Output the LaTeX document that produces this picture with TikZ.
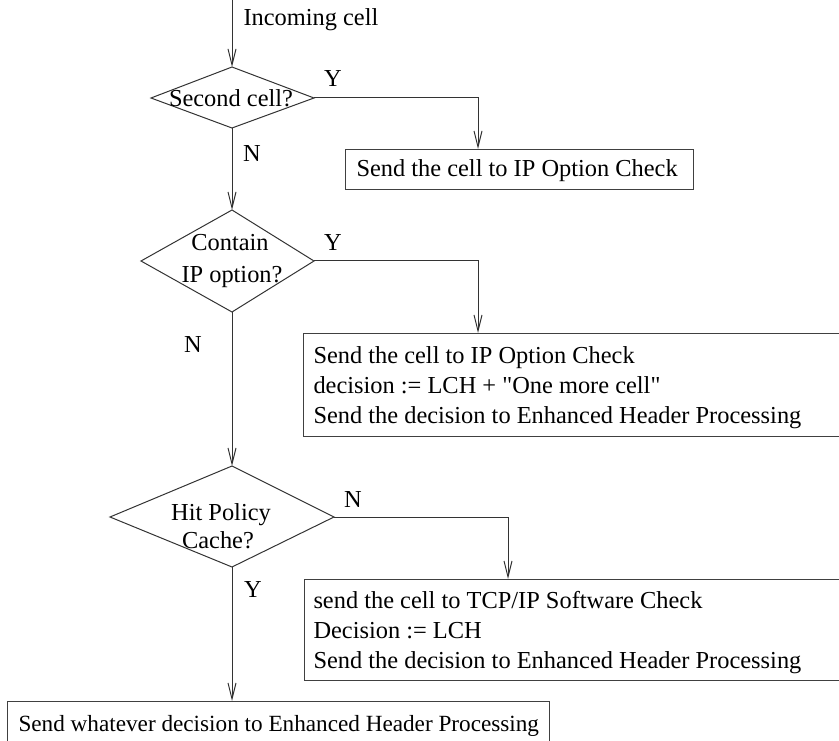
\documentclass[tikz,border=0pt]{standalone}
\usepackage{fontspec}
\setmainfont{Liberation Serif}[Ligatures=TeXOff]
\usetikzlibrary{arrows.meta}
\begin{document}
\begin{tikzpicture}[x=1pt,y=-1pt,
  line width=1pt,
  every node/.style={font=\fontsize{24.4}{30}\selectfont, inner sep=0pt},
  arr/.style={draw=black!80, -{Straight Barb[length=16pt,width=8pt,line width=1pt]}},
  decision/.style={draw=black!80, line join=miter},
  procbox/.style={draw=black!75, anchor=north west},
  line/.style={anchor=base west},
  lbl/.style={anchor=base}]
\useasboundingbox (0,0) rectangle (839,741);

% decision diamonds (top, right, bottom, left)
\coordinate (d1t) at (232,67);  \coordinate (d1r) at (314,98);
\coordinate (d1b) at (232,128); \coordinate (d1l) at (151,98);
\coordinate (d2t) at (232,210); \coordinate (d2r) at (314,261);
\coordinate (d2b) at (232,312); \coordinate (d2l) at (141,261);
\coordinate (d3t) at (232,466); \coordinate (d3r) at (334,517);
\coordinate (d3b) at (232,567); \coordinate (d3l) at (110,517);
\draw[decision] (d1t) -- (d1r) -- (d1b) -- (d1l) -- cycle;
\draw[decision] (d2t) -- (d2r) -- (d2b) -- (d2l) -- cycle;
\draw[decision] (d3t) -- (d3r) -- (d3b) -- (d3l) -- cycle;

\node[lbl] (q1) at (231,107) {Second cell?};
\node[lbl] (q2a) at (230,251) {Contain};
\node[lbl] (q2b) at (232,282) {IP option?};
\node[lbl] (q3a) at (221,520) {Hit Policy};
\node[lbl] (q3b) at (218,548) {Cache?};

% action boxes
\node[procbox, minimum width=348pt, minimum height=40pt] (b1) at (345,149) {};
\node[procbox, minimum width=536pt, minimum height=103pt] (b2) at (303,333) {};
\node[procbox, minimum width=535pt, minimum height=101pt] (b3) at (304,579) {};
\node[procbox, minimum width=542pt, minimum height=60pt] (b4) at (7,701) {};

% box texts, one node per printed line
\node[line] (b1l1) at (356,177) {Send the cell to IP Option Check};
\node[line] (b2l1) at (313,363) {Send the cell to IP Option Check};
\node[line] (b2l2) at (313,393) {decision := LCH + "One more cell"};
\node[line] (b2l3) at (313,423) {Send the decision to Enhanced Header Processing};
\node[line] (b3l1) at (313,608) {send the cell to TCP/IP Software Check};
\node[line] (b3l2) at (313,638) {Decision := LCH};
\node[line] (b3l3) at (313,668) {Send the decision to Enhanced Header Processing};
\node[line, font=\fontsize{23.2}{30}\selectfont] (b4l1) at (18,731)
  {Send whatever decision to Enhanced Header Processing};

% entry points on the boxes
\path (b1.north west) ++(133,0) coordinate (b1in);
\path (b2.north west) ++(175,0) coordinate (b2in);
\path (b3.north west) ++(204,0) coordinate (b3in);
\path (b4.north west) ++(225,0) coordinate (b4in);
\coordinate (inc) at (232,0);

% connectors
\draw[arr] (inc) -- (d1t);
\node[anchor=base west] (inlbl) at (243,26) {Incoming cell};
\draw[arr] (d1r) -| (b1in);
\draw[arr] (d1b) -- (d2t);
\draw[arr] (d2r) -| (b2in);
\draw[arr] (d2b) -- (d3t);
\draw[arr] (d3r) -| (b3in);
\draw[arr] (d3b) -- (b4in);

% branch labels
\node (y1) at (333,79) {Y};
\node (n1) at (252,154) {N};
\node (y2) at (333,243) {Y};
\node (n2) at (193,345) {N};
\node (n3) at (353,500) {N};
\node (y3) at (253,590) {Y};
\end{tikzpicture}
\end{document}
